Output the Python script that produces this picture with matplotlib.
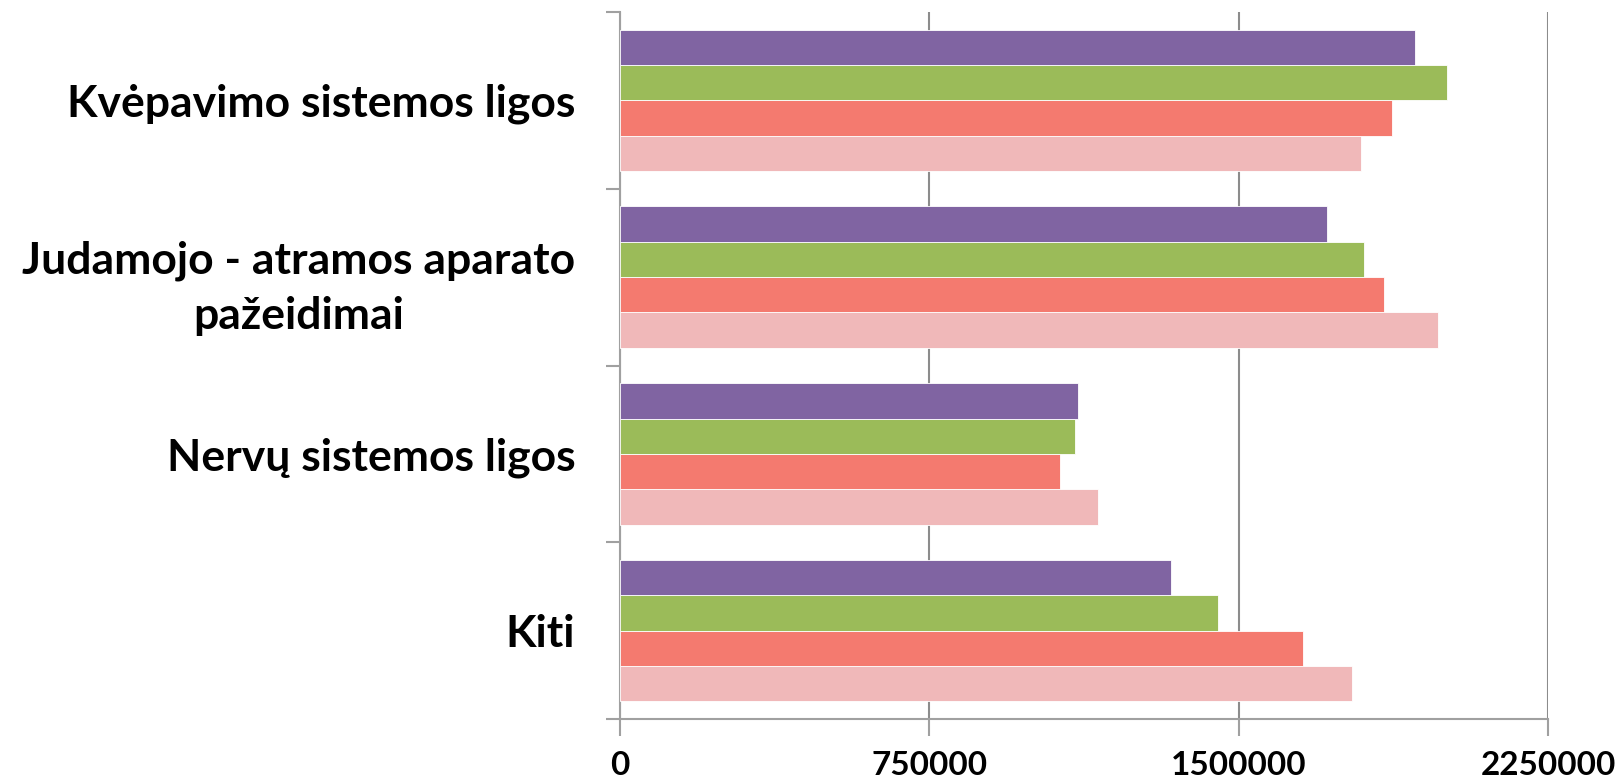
import matplotlib.pyplot as plt
import numpy as np

# categories listed bottom -> top (as in the original chart)
categories = ["Kiti", "Nervų sistemos ligos",
              "Judamojo - atramos aparato\npažeidimai", "Kvėpavimo sistemos ligos"]
# series drawn bottom -> top inside every group
series_pink = [1774000, 1158000, 1983000, 1796000]
series_red = [1655000, 1066000, 1851000, 1871000]
series_green = [1449000, 1102000, 1803000, 2005000]
series_purple = [1336000, 1110000, 1713000, 1927000]
x_ticks = [0, 750000, 1500000, 2250000]

colors = ["#F0B8B9", "#F47A6F", "#9BBB59", "#8064A2"]
all_series = [series_pink, series_red, series_green, series_purple]

plt.rcParams['font.family'] = ['Lato', 'DejaVu Sans']

fig = plt.figure(figsize=(16.18, 7.81), dpi=100)
ax = fig.add_axes([0.383, 0.0794, 0.574, 0.9052])

y = np.arange(len(categories))
h = 0.2
for k, vals in enumerate(all_series):
    ax.barh(y - 0.3 + k * h, vals, height=h, color=colors[k], edgecolor='white',
            linewidth=0.6, zorder=3)

ax.set_xlim(0, 2250000)
ax.set_ylim(-0.5, len(categories) - 0.5)
ax.set_xticks(x_ticks)
ax.set_xticklabels([str(v) for v in x_ticks], fontsize=24, fontweight='bold')
ax.set_yticks(y)
ax.set_yticklabels(categories, fontsize=32, fontweight='bold',
                   multialignment='center', linespacing=1.45)
ax.set_yticks(np.arange(-0.5, len(categories)), minor=True)

ax.grid(axis='x', color='#8c8c8c', linewidth=1.5, zorder=0)
for s in ['top', 'right']:
    ax.spines[s].set_visible(False)
for s in ['left', 'bottom']:
    ax.spines[s].set_color('#a0a0a0')
    ax.spines[s].set_linewidth(1.5)

ax.tick_params(axis='y', which='major', length=0, pad=32)
ax.tick_params(axis='y', which='minor', length=10, width=1.5, color='#a0a0a0')
ax.tick_params(axis='x', length=12, width=1.5, color='#a0a0a0', pad=11)

plt.savefig("out.png", dpi=100)
